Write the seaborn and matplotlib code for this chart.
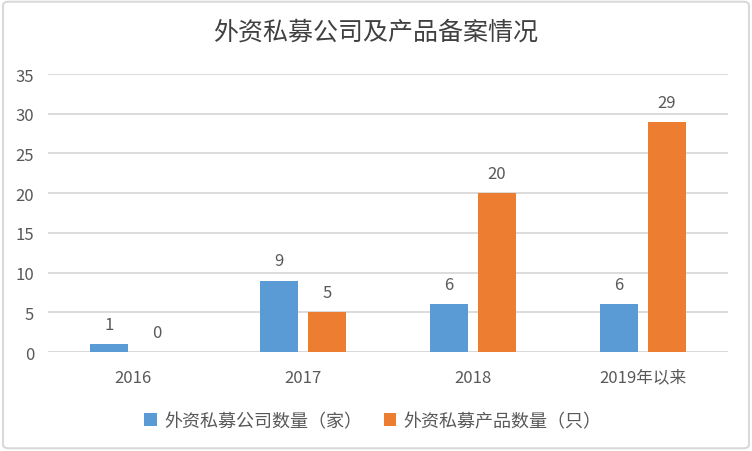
import matplotlib
matplotlib.use("Agg")
import matplotlib.pyplot as plt
from matplotlib.patches import FancyBboxPatch
import pandas as pd
import seaborn as sns

# data
years = ["2016", "2017", "2018", "2019年以来"]
companies = [1, 9, 6, 6]
products = [0, 5, 20, 29]
series_names = ["外资私募公司数量（家）", "外资私募产品数量（只）"]

df = pd.DataFrame({
    "year": years * 2,
    "count": companies + products,
    "series": [series_names[0]] * 4 + [series_names[1]] * 4,
})

sns.set_theme(style="white")
plt.rcParams["font.family"] = ["Noto Sans CJK SC", "DejaVu Sans"]

text_col = "#595959"
grid_col = "#D9D9D9"

fig = plt.figure(figsize=(7.52, 4.52), dpi=100)
ax = fig.add_axes([48 / 752, 1 - 353 / 452, 680 / 752, 278 / 452])

sns.barplot(data=df, x="year", y="count", hue="series",
            palette=["#5B9BD5", "#ED7D31"], width=0.565, gap=0.21,
            saturation=1, linewidth=0, edgecolor="none", ax=ax)

for c in ax.containers:
    ax.bar_label(c, padding=8, fontsize=12, color=text_col)

ax.set_ylim(0, 35)
ax.set_yticks(range(0, 36, 5))
ax.set_xlim(-0.5, 3.5)
ax.yaxis.grid(True, color=grid_col, linewidth=1.3)
ax.set_axisbelow(True)
for s in ax.spines.values():
    s.set_visible(False)
ax.axhline(0, color=grid_col, linewidth=1.3, zorder=0.5)
ax.tick_params(axis="both", length=0, labelsize=12, labelcolor=text_col)
ax.tick_params(axis="x", pad=12)
ax.tick_params(axis="y", pad=10)
ax.set_xlabel("")
ax.set_ylabel("")

ax.legend(loc="center", bbox_to_anchor=(373 / 752, 1 - 422 / 452),
          bbox_transform=fig.transFigure, ncol=2, frameon=False,
          fontsize=13, labelcolor=text_col, handlelength=0.7,
          handleheight=0.7, handletextpad=0.4, columnspacing=1.2)

fig.text(0.5, 1 - 33 / 452, "外资私募公司及产品备案情况", ha="center", va="center",
         fontsize=18, fontweight="medium", color="#404040")

border = FancyBboxPatch((0.004, 0.006), 0.992, 0.988, boxstyle="round,pad=0,rounding_size=0.008",
                        transform=fig.transFigure, fill=False, edgecolor=grid_col, linewidth=1.5)
fig.patches.append(border)

fig.savefig("out.png", dpi=100)
